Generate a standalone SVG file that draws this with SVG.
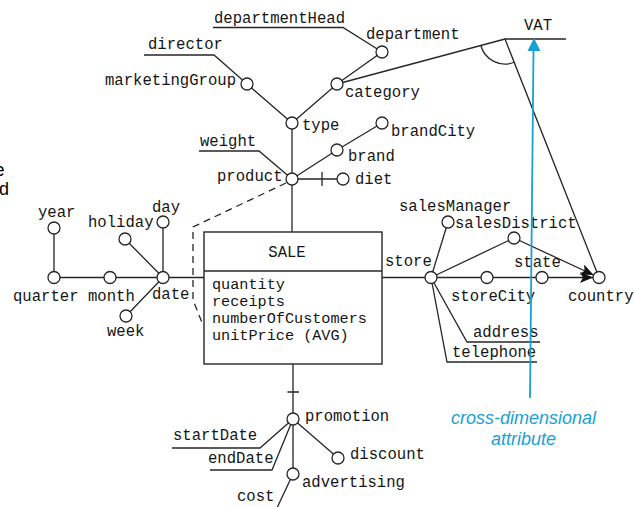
<svg xmlns="http://www.w3.org/2000/svg" width="634" height="507" viewBox="0 0 634 507">
  <style>
    .t{font-family:"Liberation Mono","Courier New",monospace;font-size:15.6px;fill:#151515}
    .a{font-size:15.2px}
    .ln{stroke:#262626;stroke-width:1.3;fill:none}
    .dash{stroke:#262626;stroke-width:1.3;fill:none;stroke-dasharray:7 5}
    .c{fill:#fff;stroke:#262626;stroke-width:1.3}
    .box{fill:#fff;stroke:#262626;stroke-width:1.4}
    .note{font-family:"Liberation Sans",Arial,sans-serif;font-size:18px;font-style:italic;fill:#1a9fd6}
    .side{font-family:"Liberation Sans",Arial,sans-serif;font-size:18px;fill:#000}
  </style>
  <defs>
    <marker id="ah" markerUnits="userSpaceOnUse" markerWidth="15" markerHeight="11" refX="13" refY="5.5" orient="auto">
      <path d="M0,0 L13,5.5 L0,11 L3,5.5 Z" fill="#111"/>
    </marker>
  </defs>
  <rect width="634" height="507" fill="#fff"/>

  <!-- text fragments at the left margin -->
  <text class="side" x="-5.5" y="176">e</text>
  <text class="side" x="-1" y="195">d</text>

  <!-- connectors -->
  <g id="connectors">
    <!-- product hierarchy -->
    <path class="ln" d="M213,27.5 H343 L382,52"/>
    <path class="ln" d="M144,55 H214 L247,84 L292,123"/>
    <path class="ln" d="M382,52 L337,84 L292,123"/>
    <path class="ln" d="M337,84 L505,39 H566"/>
    <path class="ln" d="M505,39 L599,277.5"/>
    <path class="ln" d="M480.85,45.47 A25,25 0 0 0 514.2,62.25"/>
    <path class="ln" d="M292,123 V232"/>
    <path class="ln" d="M199,151 H259 L292,179"/>
    <path class="ln" d="M292,179 L337,150 L382,123"/>
    <path class="ln" d="M292,179 H343 M322,172 V186"/>
    <path class="dash" d="M286,183 L193,227 V300 L203,325"/>
    <!-- time hierarchy -->
    <path class="ln" d="M54,228 V277.5 H204"/>
    <path class="ln" d="M125,239 L163,277.5 M163,222 V277.5 M126,316 L163,277.5"/>
    <!-- store hierarchy -->
    <path class="ln" d="M382,277.5 H542"/>
    <path class="ln" d="M542,277.5 H593" marker-end="url(#ah)"/>
    <path class="ln" d="M431,277.5 L514,238"/>
    <path class="ln" d="M514,238 L593.6,275" marker-end="url(#ah)"/>
    <path class="ln" d="M431,277.5 L448,222"/>
    <path class="ln" d="M431,277.5 L467,342 H540"/>
    <path class="ln" d="M431,277.5 L447,362 H537"/>
    <!-- promotion hierarchy -->
    <path class="ln" d="M293,364 V474 M287.5,392 H299"/>
    <path class="ln" d="M172,448 H260 L293,419"/>
    <path class="ln" d="M210,470 H272 L293,419"/>
    <path class="ln" d="M293,419 L338,458"/>
    <path class="ln" d="M293,474 L276,510"/>
  </g>

  <!-- fact -->
  <g id="SALE">
    <rect class="box" x="204" y="232" width="178" height="132"/>
    <line class="ln" x1="204" y1="271" x2="382" y2="271"/>
    <text class="t" x="287" y="257" text-anchor="middle">SALE</text>
    <text class="t a" x="212" y="289">quantity</text>
    <text class="t a" x="212" y="306">receipts</text>
    <text class="t a" x="212" y="323">numberOfCustomers</text>
    <text class="t a" x="212" y="340">unitPrice (AVG)</text>
  </g>

  <!-- product dimension -->
  <g id="departmentHead"><text class="t" x="214" y="23">departmentHead</text></g>
  <g id="department"><circle class="c" cx="382" cy="52" r="6"/><text class="t" x="366" y="39">department</text></g>
  <g id="director"><text class="t" x="148" y="49">director</text></g>
  <g id="marketingGroup"><circle class="c" cx="247" cy="84" r="6"/><text class="t" x="105" y="85">marketingGroup</text></g>
  <g id="category"><circle class="c" cx="337" cy="84" r="6"/><text class="t" x="345" y="97">category</text></g>
  <g id="VAT"><text class="t" x="538" y="30" text-anchor="middle">VAT</text></g>
  <g id="type"><circle class="c" cx="292" cy="123" r="6"/><text class="t" x="302" y="130">type</text></g>
  <g id="brandCity"><circle class="c" cx="382" cy="123" r="6"/><text class="t" x="391" y="136">brandCity</text></g>
  <g id="weight"><text class="t" x="200" y="146">weight</text></g>
  <g id="brand"><circle class="c" cx="337" cy="150" r="6"/><text class="t" x="348" y="161">brand</text></g>
  <g id="product"><circle class="c" cx="292" cy="179" r="6"/><text class="t" x="217" y="181">product</text></g>
  <g id="diet"><circle class="c" cx="343" cy="179" r="6"/><text class="t" x="355" y="184">diet</text></g>

  <!-- date dimension -->
  <g id="year"><circle class="c" cx="54" cy="228" r="6"/><text class="t" x="38" y="217">year</text></g>
  <g id="day"><circle class="c" cx="163" cy="222" r="6"/><text class="t" x="152" y="212">day</text></g>
  <g id="holiday"><circle class="c" cx="125" cy="239" r="6"/><text class="t" x="88" y="227">holiday</text></g>
  <g id="quarter"><circle class="c" cx="54" cy="277.5" r="6"/><text class="t" x="13" y="301">quarter</text></g>
  <g id="month"><circle class="c" cx="110" cy="277.5" r="6"/><text class="t" x="88" y="301">month</text></g>
  <g id="date"><circle class="c" cx="163" cy="277.5" r="6"/><text class="t" x="152" y="299">date</text></g>
  <g id="week"><circle class="c" cx="126" cy="316" r="6"/><text class="t" x="107" y="336">week</text></g>

  <!-- store dimension -->
  <g id="salesManager"><circle class="c" cx="448" cy="222" r="6"/><text class="t" x="399" y="211">salesManager</text></g>
  <g id="salesDistrict"><circle class="c" cx="514" cy="238" r="6"/><text class="t" x="455" y="228">salesDistrict</text></g>
  <g id="store"><circle class="c" cx="431" cy="277.5" r="6"/><text class="t" x="385" y="266">store</text></g>
  <g id="storeCity"><circle class="c" cx="487" cy="277.5" r="6"/><text class="t" x="451" y="301">storeCity</text></g>
  <g id="state"><circle class="c" cx="542" cy="277.5" r="6"/><text class="t" x="514" y="267">state</text></g>
  <g id="country"><circle class="c" cx="599" cy="277.5" r="6"/><text class="t" x="568" y="301">country</text></g>
  <g id="address"><text class="t" x="473" y="337">address</text></g>
  <g id="telephone"><text class="t" x="452" y="357">telephone</text></g>

  <!-- promotion dimension -->
  <g id="promotion"><circle class="c" cx="293" cy="419" r="6"/><text class="t" x="305" y="421">promotion</text></g>
  <g id="startDate"><text class="t" x="173" y="440">startDate</text></g>
  <g id="endDate"><text class="t" x="208" y="463">endDate</text></g>
  <g id="discount"><circle class="c" cx="338" cy="458" r="6"/><text class="t" x="350" y="459">discount</text></g>
  <g id="advertising"><circle class="c" cx="293" cy="474" r="6"/><text class="t" x="302" y="487">advertising</text></g>
  <g id="cost"><text class="t" x="237" y="501">cost</text></g>

  <!-- annotation -->
  <g id="crossDimensionalNote">
    <line x1="530" y1="398" x2="533.5" y2="50" stroke="#1a9fd6" stroke-width="1.8"/>
    <polygon points="534,38 527.5,51 540.5,51" fill="#1a9fd6"/>
    <text class="note" x="523.5" y="424" text-anchor="middle">cross-dimensional</text>
    <text class="note" x="523.5" y="445" text-anchor="middle">attribute</text>
  </g>
</svg>
